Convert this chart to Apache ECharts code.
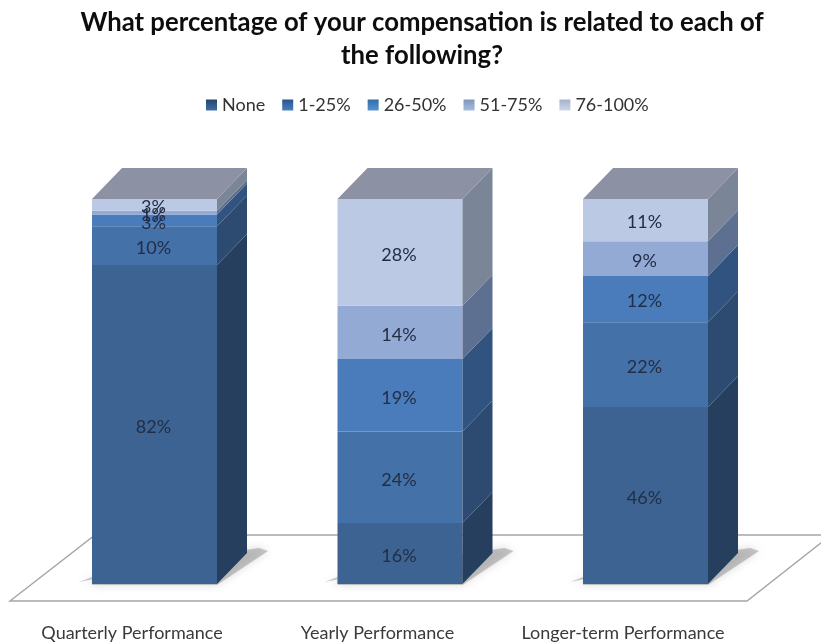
<!DOCTYPE html>
<html>
<head>
<meta charset="utf-8">
<style>html,body{margin:0;padding:0;background:#fff}#c{width:821px;height:643px}</style>
<script src="https://cdn.jsdelivr.net/npm/echarts@6/dist/echarts.min.js"></script>
</head>
<body>
<div id="c"></div>
<script>
const categories = ['Quarterly Performance', 'Yearly Performance', 'Longer-term Performance'];
const bandNames = ['None', '1-25%', '26-50%', '51-75%', '76-100%'];
const none = [82, 16, 46];
const pct1to25 = [10, 24, 22];
const pct26to50 = [3, 19, 12];
const pct51to75 = [1, 14, 9];
const pct76to100 = [3, 28, 11];

const bands = [none, pct1to25, pct26to50, pct51to75, pct76to100];
const frontColors = ['#3c6392', '#4471a8', '#4a7cbc', '#93aad5', '#bbc9e5'];
const sideColors = ['#263f5f', '#2d4a70', '#30547f', '#5d7091', '#7b8598'];
const topColor = '#8c92a4';
const legendStops = [
  ['#24466f', '#3f6ea6'], ['#24558c', '#4a80bd'], ['#2f6ca8', '#5a93cf'],
  ['#7f97c0', '#a8bbdc'], ['#a5b2cf', '#cdd6e8']
];

// Horizontal and vertical extrusion of the boxes, in pixels
const DEPTH_X = 30, DEPTH_Y = 31;
// Boxes sit to the right of the category centre, on the perspective floor
const SHIFT_X = 22.5;
const BAR_WIDTH = 125;

// Each column fills the full height: segments are shares of the column total
function stackRows(seriesIndex) {
  return categories.map((_, c) => {
    const total = bands.reduce((s, b) => s + b[c], 0);
    let start = 0;
    for (let i = 0; i < seriesIndex; i++) start += bands[i][c];
    const v = bands[seriesIndex][c];
    return [c, start / total * 100, (start + v) / total * 100, v];
  });
}

function poly(points, fill, z2) {
  return { type: 'polygon', shape: { points }, style: { fill }, z2: z2 || 0 };
}

function boxSegment(seriesIndex) {
  return function (params, api) {
    const c = api.value(0);
    const p0 = api.coord([c, api.value(1)]);
    const p1 = api.coord([c, api.value(2)]);
    const xl = p0[0] + SHIFT_X - BAR_WIDTH / 2;
    const xr = xl + BAR_WIDTH;
    const y0 = p0[1], y1 = p1[1];
    const children = [
      poly([[xl, y1], [xr, y1], [xr, y0], [xl, y0]], frontColors[seriesIndex]),
      poly([[xr, y1], [xr + DEPTH_X, y1 - DEPTH_Y], [xr + DEPTH_X, y0 - DEPTH_Y], [xr, y0]], sideColors[seriesIndex])
    ];
    if (seriesIndex === bands.length - 1) {
      children.push(poly([[xl, y1], [xl + DEPTH_X, y1 - DEPTH_Y], [xr + DEPTH_X, y1 - DEPTH_Y], [xr, y1]], topColor));
    }
    children.push({
      type: 'text', z2: 50,
      style: {
        x: (xl + xr) / 2 - 1, y: (y0 + y1) / 2 + 2.5,
        text: api.value(3) + '%', align: 'center', verticalAlign: 'middle',
        fill: '#222e45', font: '18px Lato, Carlito, sans-serif'
      }
    });
    return { type: 'group', children };
  };
}

// Soft shadow the boxes cast on the floor
function floorShadow(params, api) {
  const p = api.coord([api.value(0), 0]);
  const xl = p[0] + SHIFT_X - BAR_WIDTH / 2;
  const xr = xl + BAR_WIDTH;
  const y = p[1];
  return {
    type: 'polygon',
    shape: { points: [[xl - 13, y - 2], [xl, y - 7], [xl, y + 1], [xr, y + 1], [xr + DEPTH_X + 21, y - 33], [xr + DEPTH_X + 12, y - 36], [xr, y - 30]] },
    style: { fill: 'rgba(120,120,120,0.4)', shadowBlur: 8, shadowColor: 'rgba(110,110,110,0.6)' }
  };
}

const customSeries = bandNames.map((name, i) => ({
  name, type: 'custom', silent: true,
  coordinateSystem: 'cartesian2d',
  renderItem: boxSegment(i),
  itemStyle: { color: frontColors[i] },
  data: stackRows(i),
  encode: { x: 0, y: [1, 2] },
  clip: false
}));

const chart = echarts.init(document.getElementById('c'), null, { renderer: 'canvas' });
chart.setOption({
  animation: false,
  backgroundColor: '#ffffff',
  textStyle: { fontFamily: 'Lato, Carlito, sans-serif' },
  title: {
    text: 'What percentage of your compensation is related to each of\nthe following?',
    left: 417, top: 1, textAlign: 'center',
    textStyle: { fontSize: 25.7, fontWeight: 'bold', color: '#0d0d0d', lineHeight: 33, fontFamily: 'Lato, Carlito, sans-serif' }
  },
  legend: {
    top: 91, left: 201,
    itemWidth: 11, itemHeight: 11, itemGap: 17,
    icon: 'rect',
    textStyle: { fontSize: 18, color: '#333' },
    data: bandNames.map((name, i) => ({
      name,
      itemStyle: { color: new echarts.graphic.LinearGradient(0, 0, 0, 1, [
        { offset: 0, color: legendStops[i][0] }, { offset: 1, color: legendStops[i][1] }
      ]) }
    }))
  },
  grid: { left: 9.25, top: 199, width: 736.5, height: 385, containLabel: false },
  xAxis: {
    type: 'category', data: categories,
    axisLine: { show: false }, axisTick: { show: false },
    axisLabel: { margin: 40, fontSize: 18, color: '#3a3a3a', interval: 0 }
  },
  yAxis: { type: 'value', min: 0, max: 100, show: false, splitLine: { show: false } },
  graphic: [{
    type: 'polygon', z: 0, silent: true,
    shape: { points: [[10, 601], [95, 535], [831, 535], [747, 601]] },
    style: { fill: '#fff', stroke: '#a6a6a6', lineWidth: 1.5 }
  }],
  series: [{
    type: 'custom', name: 'floor shadow', silent: true, z: 1,
    renderItem: floorShadow,
    data: categories.map((_, c) => [c, 0]),
    encode: { x: 0, y: 1 },
    clip: false
  }].concat(customSeries)
});
</script>
</body>
</html>
